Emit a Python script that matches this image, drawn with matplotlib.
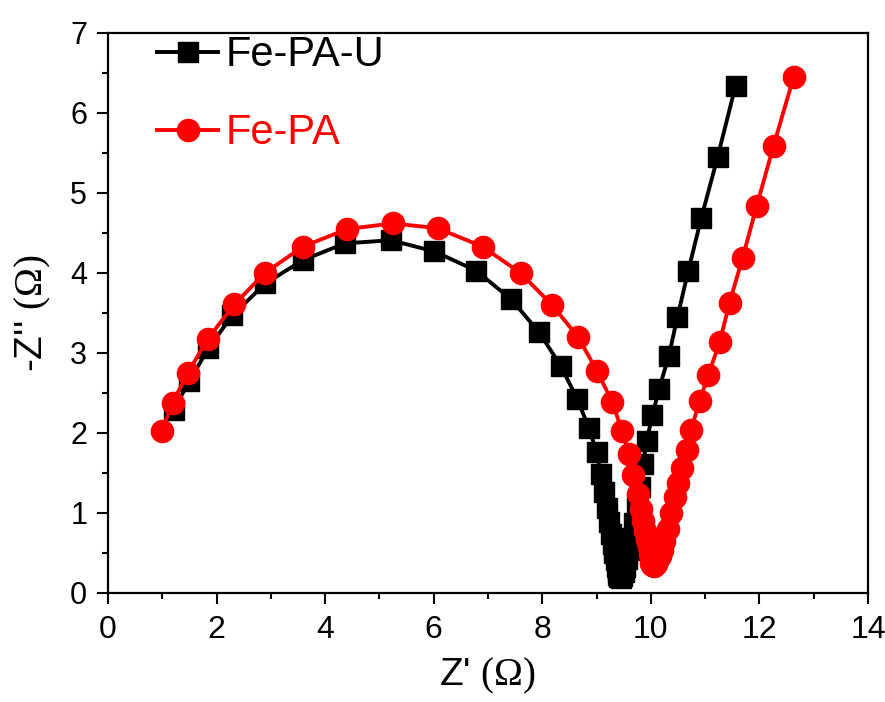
import matplotlib
matplotlib.use("Agg")
import matplotlib.pyplot as plt
from matplotlib import font_manager as fm
from matplotlib.ticker import MultipleLocator

# ---- data ----
fepau_x = [1.21, 1.50, 1.85, 2.29, 2.90, 3.59, 4.36, 5.21, 6.01, 6.78, 7.43, 7.94,
           8.34, 8.64, 8.86, 9.00, 9.08, 9.14, 9.19, 9.23, 9.27, 9.30, 9.33, 9.35,
           9.37, 9.39, 9.40, 9.42, 9.45, 9.47, 9.50, 9.53, 9.56, 9.60, 9.64, 9.69,
           9.74, 9.80, 9.86, 9.92, 10.03, 10.15, 10.33, 10.49, 10.69, 10.93, 11.23, 11.56]
fepau_y = [2.29, 2.65, 3.06, 3.47, 3.87, 4.16, 4.37, 4.41, 4.27, 4.03, 3.67, 3.26,
           2.84, 2.43, 2.06, 1.76, 1.49, 1.26, 1.06, 0.89, 0.74, 0.61, 0.50, 0.41,
           0.33, 0.27, 0.23, 0.20, 0.19, 0.21, 0.26, 0.33, 0.42, 0.54, 0.69, 0.87,
           1.08, 1.33, 1.61, 1.90, 2.22, 2.55, 2.96, 3.45, 4.03, 4.69, 5.45, 6.34]

fepa_x = [0.99, 1.19, 1.47, 1.84, 2.33, 2.89, 3.59, 4.41, 5.25, 6.07, 6.90, 7.60,
          8.18, 8.66, 9.01, 9.29, 9.47, 9.60, 9.68, 9.76, 9.82, 9.86, 9.90, 9.93,
          9.96, 9.98, 10.00, 10.01, 10.03, 10.06, 10.09, 10.12, 10.16, 10.20, 10.25,
          10.31, 10.38, 10.44, 10.50, 10.57, 10.66, 10.74, 10.90, 11.06, 11.27,
          11.45, 11.69, 11.95, 12.26, 12.63]
fepa_y = [2.02, 2.38, 2.75, 3.18, 3.61, 4.00, 4.33, 4.55, 4.62, 4.56, 4.33, 4.00,
          3.60, 3.20, 2.77, 2.39, 2.02, 1.74, 1.47, 1.24, 1.05, 0.90, 0.77, 0.66,
          0.57, 0.49, 0.43, 0.38, 0.35, 0.34, 0.36, 0.40, 0.46, 0.54, 0.65,
          0.80, 1.00, 1.20, 1.38, 1.56, 1.79, 2.04, 2.40, 2.73, 3.14,
          3.63, 4.19, 4.84, 5.59, 6.45]

labels = ["Fe-PA-U", "Fe-PA"]
x_ticks = [0, 2, 4, 6, 8, 10, 12, 14]
y_ticks = [0, 1, 2, 3, 4, 5, 6, 7]

# ---- fonts ----
names = {f.name for f in fm.fontManager.ttflist}
regular = "Liberation Sans" if "Liberation Sans" in names else "DejaVu Sans"
serif = "Liberation Serif" if "Liberation Serif" in names else "DejaVu Serif"
plt.rcParams["font.family"] = [regular, "DejaVu Sans"]
plt.rcParams["mathtext.fontset"] = "custom"
plt.rcParams["mathtext.rm"] = serif
plt.rcParams["mathtext.it"] = serif + ":italic"
plt.rcParams["mathtext.bf"] = serif + ":bold"

fig = plt.figure(figsize=(8.85, 7.02), dpi=100)
ax = fig.add_axes([108 / 885, 1 - 593 / 702, (868 - 108) / 885, (593 - 33) / 702])

ax.plot(fepau_x, fepau_y, color="black", lw=2.8, marker="s", ms=14,
        mec="black", mfc="black", label=labels[0], zorder=3)
ax.plot(fepa_x, fepa_y, color="red", lw=2.8, marker="o", ms=16,
        mec="red", mfc="red", label=labels[1], zorder=4)

ax.set_xlim(0, 14)
ax.set_ylim(0, 7)
ax.set_xticks(x_ticks)
ax.set_yticks(y_ticks)
ax.xaxis.set_minor_locator(MultipleLocator(1))
ax.yaxis.set_minor_locator(MultipleLocator(0.5))
ax.tick_params(which="major", direction="out", length=8, width=1.5,
               top=False, right=False)
ax.tick_params(which="minor", direction="out", length=4.5, width=1.5,
               top=False, right=False)
ax.tick_params(axis="x", which="major", pad=8, labelsize=23)
ax.tick_params(axis="y", which="major", pad=7, labelsize=22)
for s in ax.spines.values():
    s.set_linewidth(1.6)

ax.set_xlabel("Z' $\\mathrm{(\\Omega)}$", fontsize=28, labelpad=8)
ax.set_ylabel("-Z'' $\\mathrm{(\\Omega)}$", fontsize=28, labelpad=12)

leg = ax.legend(loc="upper left", bbox_to_anchor=(0.043, 1.026), frameon=False,
                fontsize=30, handlelength=1.45, handletextpad=0.2,
                labelspacing=0.92, borderaxespad=0.0)
for t, c in zip(leg.get_texts(), ["black", "red"]):
    t.set_color(c)

fig.savefig("out.png", dpi=100)
